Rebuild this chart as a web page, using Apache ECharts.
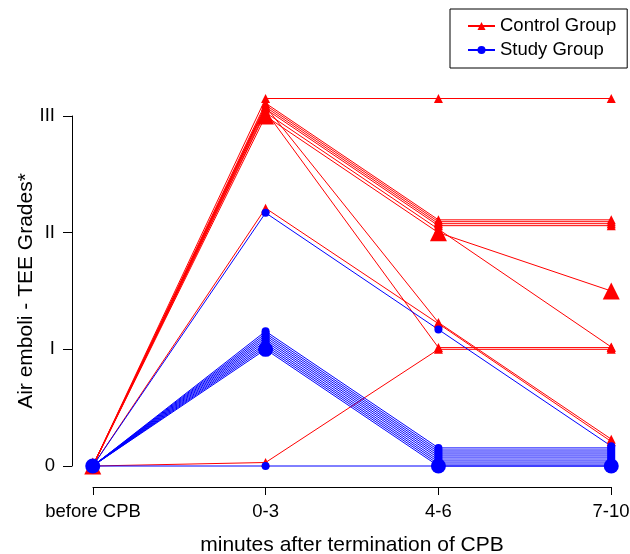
<!DOCTYPE html>
<html>
<head>
<meta charset="utf-8">
<script src="https://cdn.jsdelivr.net/npm/echarts@6/dist/echarts.min.js"></script>
<style>
  html, body { margin: 0; padding: 0; background: #fff; }
  #chart { width: 630px; height: 554px; }
</style>
</head>
<body>
<div id="chart"></div>
<script>
const timeLabels = ['before CPB', '0-3', '4-6', '7-10'];
const gradeLabels = ['0', 'I', 'II', 'III'];

// grades as plotted (small vertical jitter)
const controlPatients = [
  [0, 3.15, 3.15, 3.15],
  [0, 3.11, 2.11, 2.11],
  [0, 3.094, 2.094, 2.094],
  [0, 3.077, 2.077, 2.077],
  [0, 3.06, 2.06, 2.06],
  [0, 3.03, 2.03, 1.02],
  [0, 3.08, 1.23, 0.23],
  [0, 3.04, 1.015, 1.015],
  [0, 2.21, 1.22, 0.21],
  [0, 0.03, 1.0, 1.0],
];
const studyPatients = [
  [0, 0, 0, 0],
  [0, 2.17, 1.17, 0.17],
  [0, 1.155, 0.155, 0.155],
  [0, 1.137, 0.137, 0.137],
  [0, 1.12, 0.12, 0.12],
  [0, 1.103, 0.103, 0.103],
  [0, 1.086, 0.086, 0.086],
  [0, 1.069, 0.069, 0.069],
  [0, 1.051, 0.051, 0.051],
  [0, 1.034, 0.034, 0.034],
  [0, 1.017, 0.017, 0.017],
];
const controlMedian = [0, 3, 2, 1.5];
const studyMedian = [0, 1, 0, 0];

const RED = '#ff0000';
const BLUE = '#0000ff';
const FONT = '"Liberation Sans", Arial, sans-serif';

const myChart = echarts.init(document.getElementById('chart'));

function makeSeries(name, values, color, symbol, size) {
  return {
    name: name,
    type: 'line',
    xAxisIndex: 0,
    yAxisIndex: 0,
    data: values.map((v, i) => [i, v]),
    symbol: symbol,
    symbolSize: size,
    showSymbol: true,
    clip: false,
    color: color,
    itemStyle: { color: color },
    lineStyle: { color: color, width: 1 },
    emphasis: { disabled: true },
    silent: true,
  };
}

const series = [];
controlPatients.forEach((p) => {
  series.push(makeSeries('Control Group', p, RED, 'triangle', 9));
});
series.push(makeSeries('Control Group', controlMedian, RED, 'triangle', 17));
studyPatients.forEach((p) => {
  series.push(makeSeries('Study Group', p, BLUE, 'circle', 8));
});
series.push(makeSeries('Study Group', studyMedian, BLUE, 'circle', 15));

const option = {
  animation: false,
  backgroundColor: '#fff',
  textStyle: { fontFamily: FONT },
  legend: {
    data: ['Control Group', 'Study Group'],
    orient: 'vertical',
    left: 450,
    top: 9,
    padding: [7, 11, 8, 17],
    itemGap: 4,
    itemWidth: 27,
    itemHeight: 10,
    borderColor: '#000',
    borderWidth: 1,
    borderRadius: 0,
    selectedMode: false,
    textStyle: { fontSize: 18.5, color: '#000', fontFamily: FONT, lineHeight: 20 },
  },
  grid: [
    { left: 72, right: -2, top: 116, bottom: 88, outerBoundsMode: 'none' },
    { left: 93, right: 19, top: 116, bottom: 67, outerBoundsMode: 'none' },
  ],
  xAxis: [
    {
      type: 'value',
      gridIndex: 0,
      min: -0.12,
      max: 3.12,
      show: false,
    },
    {
      type: 'category',
      gridIndex: 1,
      data: timeLabels,
      boundaryGap: false,
      position: 'bottom',
      axisLine: { show: true, onZero: false, lineStyle: { color: '#000', width: 1 } },
      axisTick: { show: true, length: 8, lineStyle: { color: '#000' } },
      axisLabel: { fontSize: 18.5, color: '#000', margin: 15, fontFamily: FONT },
      name: 'minutes after termination of CPB',
      nameLocation: 'middle',
      nameGap: 48,
      nameMoveOverlap: false,
      nameTextStyle: { fontSize: 21, color: '#000', fontFamily: FONT },
      splitLine: { show: false },
    },
  ],
  yAxis: [
    {
      type: 'value',
      gridIndex: 0,
      min: 0,
      max: 3,
      interval: 1,
      axisLine: { show: true, onZero: false, lineStyle: { color: '#000', width: 1 } },
      axisTick: { show: true, length: 9, lineStyle: { color: '#000' } },
      axisLabel: {
        fontSize: 18.5,
        color: '#000',
        margin: 17,
        fontFamily: FONT,
        formatter: (v) => gradeLabels[v] ?? '',
      },
      splitLine: { show: false },
      name: 'Air emboli - TEE Grades*',
      nameLocation: 'middle',
      nameGap: 35,
      nameMoveOverlap: false,
      nameTextStyle: { fontSize: 21, color: '#000', fontFamily: FONT },
    },
    {
      type: 'value',
      gridIndex: 1,
      show: false,
    },
  ],
  series: series,
};

myChart.setOption(option);
</script>
</body>
</html>
